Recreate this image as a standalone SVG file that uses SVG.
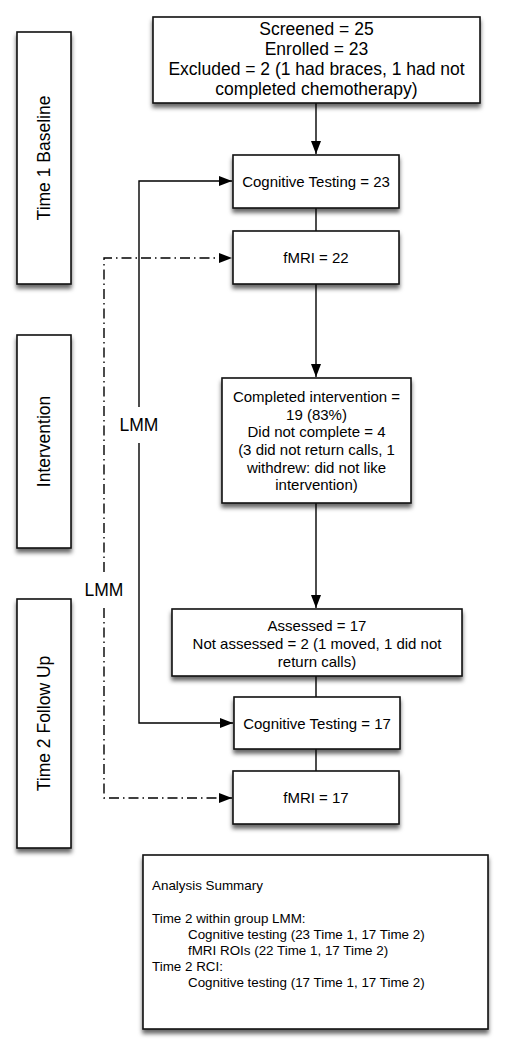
<svg xmlns="http://www.w3.org/2000/svg" width="506" height="1050" viewBox="0 0 506 1050">
<defs>
<filter id="sh" x="-20%" y="-20%" width="140%" height="150%">
<feDropShadow dx="0" dy="4" stdDeviation="2" flood-color="#000" flood-opacity="0.6"/>
</filter>
<marker id="ah" markerWidth="13" markerHeight="10" refX="13" refY="5" orient="auto" markerUnits="userSpaceOnUse">
<path d="M0,0 L13,5 L0,10 Z" fill="#000" stroke="none" stroke-dasharray="none"/>
</marker>
<style>
.box{fill:#fff;stroke:#111;stroke-width:1.6;filter:url(#sh)}
.t{font-family:"Liberation Sans",Arial,sans-serif;fill:#000;text-anchor:middle}
.big{font-size:17.5px}
.mid{font-size:15px}
.sm{font-size:13.4px;text-anchor:start}
.ln{fill:none;stroke:#000;stroke-width:1.4}
.dd{fill:none;stroke:#000;stroke-width:1.4;stroke-dasharray:10,4,1.5,4}
</style>
</defs>
<rect width="506" height="1050" fill="#fff"/>

<g id="connectors">
<line class="ln" x1="316" y1="103" x2="316" y2="154" marker-end="url(#ah)"/>
<line class="ln" x1="316" y1="208" x2="316" y2="231"/>
<line class="ln" x1="316" y1="284" x2="316" y2="377" marker-end="url(#ah)"/>
<line class="ln" x1="316" y1="503" x2="316" y2="608" marker-end="url(#ah)"/>
<line class="ln" x1="316" y1="676" x2="316" y2="697"/>
<line class="ln" x1="316" y1="749" x2="316" y2="771"/>
<polyline class="ln" points="139,407 139,181 232,181" marker-end="url(#ah)"/>
<polyline class="ln" points="139,443 139,723 233,723" marker-end="url(#ah)"/>
<text class="t big" x="139" y="431">LMM</text>
<polyline class="dd" points="104,572 104,258 232,258" marker-end="url(#ah)"/>
<polyline class="dd" points="104,608 104,798 232,798" marker-end="url(#ah)"/>
<text class="t big" x="104" y="596">LMM</text>
</g>

<g id="phase-time1">
<rect class="box" x="17" y="32" width="54" height="252"/>
<text class="t big" transform="translate(50,158) rotate(-90)">Time 1 Baseline</text>
</g>
<g id="phase-intervention">
<rect class="box" x="17" y="335" width="54" height="213"/>
<text class="t big" transform="translate(50,441.5) rotate(-90)">Intervention</text>
</g>
<g id="phase-time2">
<rect class="box" x="17" y="599" width="54" height="249"/>
<text class="t big" transform="translate(50,723.5) rotate(-90)">Time 2 Follow Up</text>
</g>

<g id="screened">
<rect class="box" x="153" y="17" width="327" height="86"/>
<text class="t big" x="316.5" y="35">Screened = 25</text>
<text class="t big" x="316.5" y="55">Enrolled = 23</text>
<text class="t big" x="316.5" y="75">Excluded = 2 (1 had braces, 1 had not</text>
<text class="t big" x="316.5" y="95">completed chemotherapy)</text>
</g>

<g id="cog1">
<rect class="box" x="233" y="155" width="166" height="53"/>
<text class="t mid" x="316" y="187">Cognitive Testing = 23</text>
</g>

<g id="fmri1">
<rect class="box" x="233" y="231" width="166" height="53"/>
<text class="t mid" x="316" y="263">fMRI = 22</text>
</g>

<g id="intervention">
<rect class="box" x="222" y="378" width="189" height="125"/>
<text class="t mid" x="316.5" y="402">Completed intervention =</text>
<text class="t mid" x="316.5" y="420">19 (83%)</text>
<text class="t mid" x="316.5" y="437">Did not complete = 4</text>
<text class="t mid" x="316.5" y="455">(3 did not return calls, 1</text>
<text class="t mid" x="316.5" y="473">withdrew: did not like</text>
<text class="t mid" x="316.5" y="490">intervention)</text>
</g>

<g id="assessed">
<rect class="box" x="172" y="609" width="290" height="67"/>
<text class="t mid" x="317" y="631">Assessed = 17</text>
<text class="t mid" x="317" y="649">Not assessed = 2 (1 moved, 1 did not</text>
<text class="t mid" x="317" y="667">return calls)</text>
</g>

<g id="cog2">
<rect class="box" x="234" y="697" width="166" height="52"/>
<text class="t mid" x="317" y="729">Cognitive Testing = 17</text>
</g>

<g id="fmri2">
<rect class="box" x="233" y="771" width="166" height="53"/>
<text class="t mid" x="316" y="803">fMRI = 17</text>
</g>

<g id="summary">
<rect class="box" x="143" y="855" width="345" height="174"/>
<text class="t sm" x="152" y="890">Analysis Summary</text>
<text class="t sm" x="152" y="923">Time 2 within group LMM:</text>
<text class="t sm" x="188" y="939">Cognitive testing (23 Time 1, 17 Time 2)</text>
<text class="t sm" x="188" y="955">fMRI ROIs (22 Time 1, 17 Time 2)</text>
<text class="t sm" x="152" y="971">Time 2 RCI:</text>
<text class="t sm" x="188" y="987">Cognitive testing (17 Time 1, 17 Time 2)</text>
</g>
</svg>
